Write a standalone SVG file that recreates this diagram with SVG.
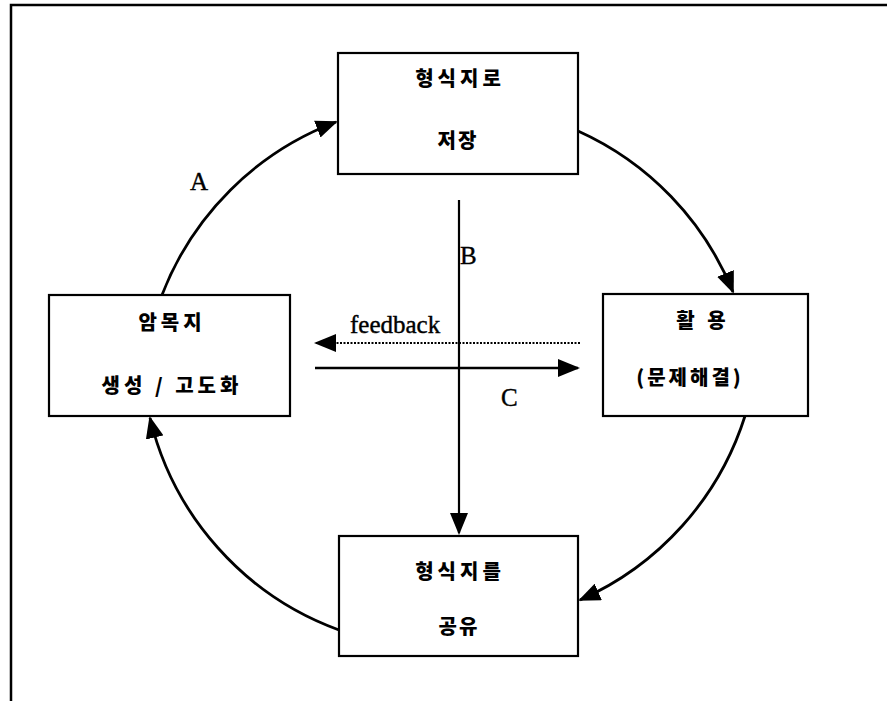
<svg xmlns="http://www.w3.org/2000/svg" width="887" height="701" viewBox="0 0 887 701">
<defs>
<style>
.box{fill:#fff;stroke:#000;stroke-width:2.2}
.kr{font-family:"Noto Sans CJK KR","Noto Sans",sans-serif;font-weight:900;font-size:20px;text-anchor:middle;fill:#000}
.lat{font-family:"Liberation Serif","Times New Roman",serif;font-size:25px;fill:#000;stroke:#000;stroke-width:0.4}
.arc{fill:none;stroke:#000;stroke-width:2.8;marker-end:url(#ah)}
</style>
<marker id="ah" markerUnits="userSpaceOnUse" markerWidth="22" markerHeight="18" refX="20" refY="9" orient="auto">
<path d="M0,0 L22,9 L0,18 z" fill="#000"/>
</marker>
</defs>
<rect width="887" height="701" fill="#fff"/>
<path d="M11,701 L11,5 L887,5" fill="none" stroke="#000" stroke-width="2.5"/>
<g id="connectors">
<path class="arc" d="M162,295 A300,300 0 0,1 336,122"/>
<path class="arc" d="M578,131 A300,300 0 0,1 733,292"/>
<path class="arc" d="M745,416 A300,300 0 0,1 580,600"/>
<path class="arc" d="M339,630 A300,300 0 0,1 150,418"/>
<line x1="459" y1="200" x2="459" y2="533" stroke="#000" stroke-width="2.2" marker-end="url(#ah)"/>
<line x1="580" y1="343" x2="316" y2="343" stroke="#000" stroke-width="2.2" stroke-dasharray="2,1.5" marker-end="url(#ah)"/>
<line x1="315" y1="368" x2="578" y2="368" stroke="#000" stroke-width="2.5" marker-end="url(#ah)"/>
<text class="lat" x="190" y="190">A</text>
<text class="lat" x="460" y="264">B</text>
<text class="lat" x="350" y="333">feedback</text>
<text class="lat" x="501" y="406">C</text>
</g>
<g id="top">
<rect class="box" x="338" y="53" width="240" height="121"/>
<text class="kr" x="460" y="86" letter-spacing="4">형식지로</text>
<text class="kr" x="458" y="148" letter-spacing="2">저장</text>
</g>
<g id="left">
<rect class="box" x="49" y="295" width="241" height="121"/>
<text class="kr" x="172" y="330" letter-spacing="4">암목지</text>
<text class="kr" x="172" y="393" letter-spacing="4">생성 / 고도화</text>
</g>
<g id="right">
<rect class="box" x="603" y="294" width="205" height="122"/>
<text class="kr" x="703" y="328" letter-spacing="4">활 용</text>
<text class="kr" x="690" y="385" letter-spacing="3">(문제해결)</text>
</g>
<g id="bottom">
<rect class="box" x="339" y="536" width="239" height="120"/>
<text class="kr" x="460" y="579" letter-spacing="4">형식지를</text>
<text class="kr" x="459" y="634" letter-spacing="2">공유</text>
</g>
</svg>
